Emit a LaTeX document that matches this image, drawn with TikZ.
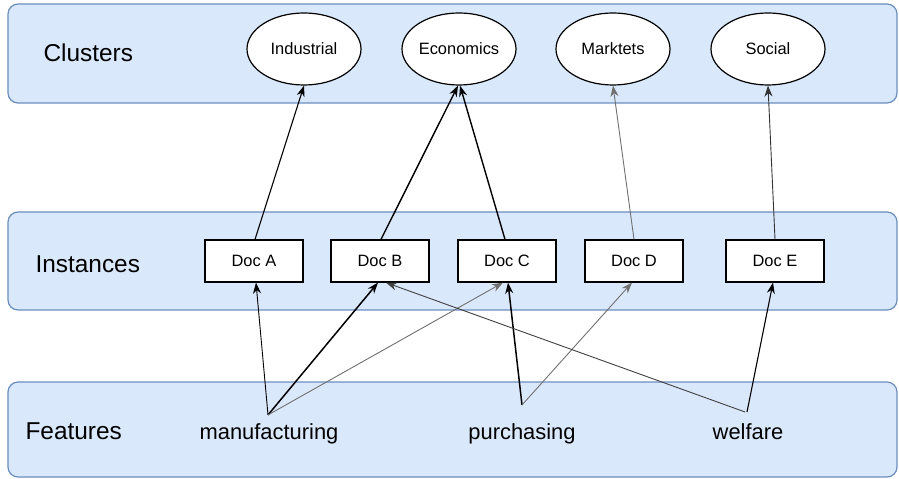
\documentclass[tikz,border=0pt]{standalone}
\usepackage{fontspec}
\setmainfont{Liberation Sans}
\usetikzlibrary{arrows.meta,shapes.geometric}
\definecolor{bandfill}{HTML}{DAE8FC}
\definecolor{bandline}{HTML}{6C8EBF}
\definecolor{lightline}{HTML}{707070}
\tikzstyle{band}=[draw=bandline,fill=bandfill,line width=1.2bp,rounded corners=10bp]
\tikzstyle{cluster}=[ellipse,draw,fill=white,line width=1.2bp,minimum width=114bp,minimum height=72bp,inner sep=0pt,font=\fontsize{16.5}{19}\selectfont]
\tikzstyle{doc}=[rectangle,draw,fill=white,line width=1.2bp,minimum width=98bp,minimum height=42bp,inner sep=0pt,font=\fontsize{16.5}{19}\selectfont]
\tikzstyle{layer}=[anchor=west,font=\fontsize{24.5}{28}\selectfont]
\tikzstyle{feature}=[anchor=base,inner sep=0pt,font=\fontsize{22}{26}\selectfont]
\tikzstyle{arr}=[-{Stealth[length=11bp,width=8bp,inset=3.5bp]},line width=1.1bp]

\begin{document}
\begin{tikzpicture}[x=1bp,y=-1bp]
\useasboundingbox (0,0) rectangle (899,479);
% layers
\draw[band] (8,4) rectangle (897,103);
\draw[band] (8,212) rectangle (897,310);
\draw[band] (8,382) rectangle (897,477);
\node[layer] at (40, 53) (lclu) {Clusters};
\node[layer] at (32, 264) (lins) {Instances};
\node[layer] at (22, 431) (lfea) {Features};

% clusters
\node[cluster] at (304, 49) (ind) {Industrial};
\node[cluster] at (459, 49) (eco) {Economics};
\node[cluster] at (613, 49) (mar) {Marktets};
\node[cluster] at (768, 49) (soc) {Social};

% instances
\node[doc] at (254, 261) (docA) {Doc A};
\node[doc] at (380, 261) (docB) {Doc B};
\node[doc] at (507, 261) (docC) {Doc C};
\node[doc] at (634, 261) (docD) {Doc D};
\node[doc] at (775, 261) (docE) {Doc E};

% features
\node[feature] at (269, 439) (man) {manufacturing};
\node[feature] at (522, 439) (pur) {purchasing};
\node[feature] at (748, 439) (wel) {welfare};

% instances -> clusters
\draw[arr] ([xshift=1]docA.north) -- (ind.south);
\draw[arr, line width=1.4bp] ([xshift=1]docB.north) -- ([xshift=-1]eco.south);
\draw[arr, line width=1.4bp] ([xshift=-2]docC.north) -- ([xshift=1]eco.south);
\draw[arr, line width=0.9bp, lightline] (docD.north) -- (mar.south);
\draw[arr, line width=0.9bp, black!80] (docE.north) -- (soc.south);

% features -> instances
\draw[arr, line width=0.9bp] ([xshift=-1,yshift=8]man.north) -- ([xshift=2]docA.south);
\draw[arr, line width=1.5bp] ([xshift=-1,yshift=8]man.north) -- ([xshift=-2]docB.south);
\draw[arr, line width=0.9bp, lightline] ([xshift=-1,yshift=8]man.north) -- ([xshift=-4]docC.south);
\draw[arr, line width=1.5bp] ([yshift=18]pur.north) -- ([xshift=1]docC.south);
\draw[arr, line width=0.9bp, lightline] ([yshift=18]pur.north) -- ([xshift=-2]docD.south);
\draw[arr, line width=1.1bp] ([xshift=-1,yshift=11]wel.north) -- ([xshift=-2]docE.south);
\draw[arr, line width=0.9bp, black!75] ([xshift=-3,yshift=11]wel.north) -- ([xshift=6]docB.south);
\end{tikzpicture}
\end{document}
